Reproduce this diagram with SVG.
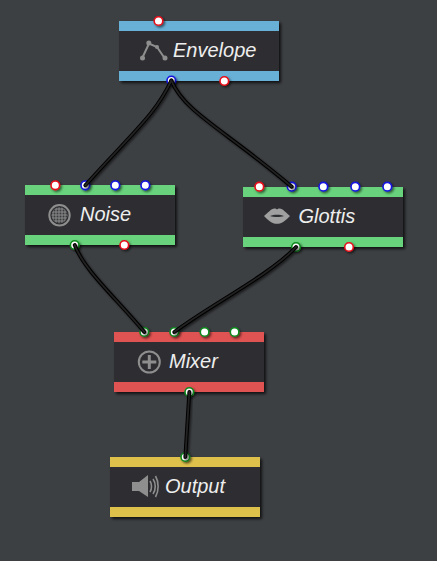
<svg xmlns="http://www.w3.org/2000/svg" width="437" height="561" viewBox="0 0 437 561">
<defs>
<filter id="sh" x="-10%" y="-20%" width="125%" height="150%"><feDropShadow dx="2" dy="2" stdDeviation="1.5" flood-color="#000" flood-opacity="0.75"/></filter>
<filter id="psh" x="-50%" y="-50%" width="220%" height="220%"><feDropShadow dx="1.5" dy="1.5" stdDeviation="1" flood-color="#000" flood-opacity="0.6"/></filter>
<pattern id="mesh" width="3" height="3" patternUnits="userSpaceOnUse" x="50" y="206"><rect width="3" height="3" fill="#7c7c7c"/><circle cx="1.500" cy="1.500" r="1" fill="#3a3c3e"/></pattern>
</defs>
<style>
.body{fill:#2d2f31}
.blue{fill:#67b0d6}.green{fill:#67d27b}.red{fill:#e05252}.yellow{fill:#dec14c}
.lbl{font-family:"Liberation Sans",Arial,sans-serif;font-style:italic;font-size:20px;fill:#eeeeee}
.pr,.pb,.pg{fill:#fff;stroke-width:1.6;filter:url(#psh)}
.pr{stroke:#e8101a}.pb{stroke:#1414e0}.pg{stroke:#0f8a1e}
.ic{fill:none;stroke:#8e8e8e;stroke-width:2}
.icf{fill:#8e8e8e}
.w{fill:none;stroke:#000;stroke-width:3.8;stroke-linecap:round;filter:url(#psh)}
.wh{fill:none;stroke:#222;stroke-width:1.800;stroke-linecap:round}
</style>
<rect width="437" height="561" fill="#3d4043"/>
<g id="node-envelope">
<g filter="url(#sh)"><rect class="body" x="119" y="21" width="160" height="60"/><rect class="blue" x="119" y="21" width="160" height="10"/><rect class="blue" x="119" y="71" width="160" height="10"/></g>
<path class="ic" d="M142.500 57.500L149 43.500L157 47L164.500 58"/><g class="icf"><circle cx="142.500" cy="58" r="2.500"/><circle cx="148.800" cy="43" r="2.500"/><circle cx="157" cy="47" r="2"/><circle cx="165" cy="58" r="2.500"/></g>
<text class="lbl" x="173" y="57">Envelope</text>
<circle class="pr" cx="158.500" cy="21" r="4.300"/><circle class="pb" cx="171.300" cy="80.500" r="4.300"/><circle class="pr" cx="224.300" cy="81" r="4.300"/>
</g>
<g id="node-noise">
<g filter="url(#sh)"><rect class="body" x="25" y="185" width="150" height="60"/><rect class="green" x="25" y="185" width="150" height="10"/><rect class="green" x="25" y="235" width="150" height="10"/></g>
<circle class="ic" cx="59.500" cy="215.300" r="10.200"/><circle cx="59.500" cy="215.300" r="8" fill="url(#mesh)"/>
<text class="lbl" x="80" y="221">Noise</text>
<circle class="pr" cx="55.300" cy="185.300" r="4.300"/><circle class="pb" cx="85.300" cy="185.300" r="4.300"/><circle class="pb" cx="115.300" cy="185.300" r="4.300"/><circle class="pb" cx="145.300" cy="185.300" r="4.300"/>
<circle class="pg" cx="74.700" cy="245" r="4.300"/><circle class="pr" cx="124.300" cy="245" r="4.300"/>
</g>
<g id="node-glottis">
<g filter="url(#sh)"><rect class="body" x="243" y="187" width="160" height="60"/><rect class="green" x="243" y="187" width="160" height="10"/><rect class="green" x="243" y="237" width="160" height="10"/></g>
<path fill="#a0a0a0" d="M264 216C268 213 271 208.500 274.500 208.500C276 208.500 276.500 209.300 277 209.300C277.500 209.300 278 208.500 279.500 208.500C283 208.500 286 213 290 216C286 220 282 223.800 277 223.800C272 223.800 268 220 264 216Z"/>
<path d="M270 216C274 214.300 280 214.300 284 216C280 217.300 274 217.300 270 216Z" fill="#2d2f31"/>
<text class="lbl" x="298.500" y="223">Glottis</text>
<circle class="pr" cx="259.300" cy="186.700" r="4.300"/><circle class="pb" cx="291.700" cy="186.700" r="4.300"/><circle class="pb" cx="323.300" cy="186.700" r="4.300"/><circle class="pb" cx="355.300" cy="186.700" r="4.300"/><circle class="pb" cx="387.300" cy="186.700" r="4.300"/>
<circle class="pg" cx="296" cy="247" r="4.300"/><circle class="pr" cx="349" cy="247" r="4.300"/>
</g>
<g id="node-mixer">
<g filter="url(#sh)"><rect class="body" x="114" y="332" width="150" height="60"/><rect class="red" x="114" y="332" width="150" height="10"/><rect class="red" x="114" y="382" width="150" height="10"/></g>
<circle class="ic" cx="149.300" cy="362" r="10.500"/><path d="M149.300 355V369M142.300 362H156.300" stroke="#8e8e8e" stroke-width="3" fill="none"/>
<text class="lbl" x="169" y="368">Mixer</text>
<circle class="pg" cx="144.300" cy="332" r="4.300"/><circle class="pg" cx="174.300" cy="332" r="4.300"/><circle class="pg" cx="204.600" cy="332" r="4.300"/><circle class="pg" cx="234.600" cy="332" r="4.300"/>
<circle class="pg" cx="189.300" cy="392" r="4.300"/>
</g>
<g id="node-output">
<g filter="url(#sh)"><rect class="body" x="110" y="457" width="150" height="60"/><rect class="yellow" x="110" y="457" width="150" height="10"/><rect class="yellow" x="110" y="507" width="150" height="10"/></g>
<path class="icf" d="M132 482H139L148 475V497L139 491H132Z"/>
<path d="M150 481C152 484 152 489 150 492M153 479C156 483 156 490 153 494M155.500 476C159 482 159 491 155.500 497" fill="none" stroke="#8e8e8e" stroke-width="1.600"/>
<text class="lbl" x="165" y="493">Output</text>
<circle class="pg" cx="185.300" cy="457" r="4.300"/>
</g>
<g id="connectors">
<path class="w" d="M171.300 80.500C155 115 135 130 85.300 185.300"/>
<path class="w" d="M171.300 80.500C184 112 225 130 291.700 186.700"/>
<path class="w" d="M74.700 245C84 270 115 297 144.300 332"/>
<path class="w" d="M296 247C270 275 210 305 174.300 332"/>
<path class="w" d="M189.300 392L185.300 457"/>
<path class="wh" d="M171.300 80.500C155 115 135 130 85.300 185.300"/>
<path class="wh" d="M171.300 80.500C184 112 225 130 291.700 186.700"/>
<path class="wh" d="M74.700 245C84 270 115 297 144.300 332"/>
<path class="wh" d="M296 247C270 275 210 305 174.300 332"/>
<path class="wh" d="M189.300 392L185.300 457"/>
</g>
</svg>
